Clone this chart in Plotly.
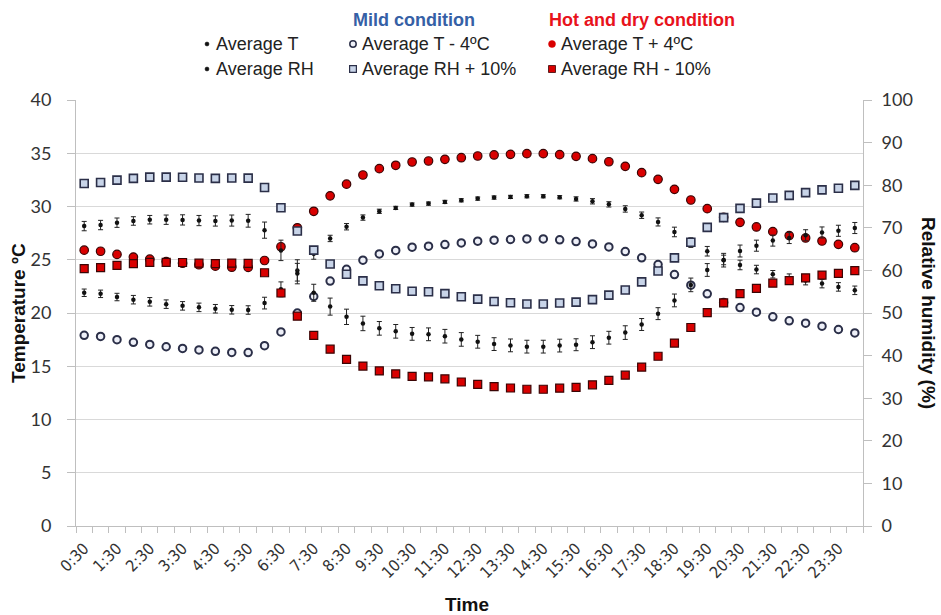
import plotly.graph_objects as go

# ---------------- data ----------------
times = ["0:30", "1:00", "1:30", "2:00", "2:30", "3:00", "3:30", "4:00", "4:30", "5:00",
         "5:30", "6:00", "6:30", "7:00", "7:30", "8:00", "8:30", "9:00", "9:30", "10:00",
         "10:30", "11:00", "11:30", "12:00", "12:30", "13:00", "13:30", "14:00", "14:30", "15:00",
         "15:30", "16:00", "16:30", "17:00", "17:30", "18:00", "18:30", "19:00", "19:30", "20:00",
         "20:30", "21:00", "21:30", "22:00", "22:30", "23:00", "23:30", "24:00"]

avg_T = [21.90, 21.80, 21.50, 21.25, 21.05, 20.83, 20.67, 20.53, 20.40, 20.30, 20.28, 20.93,
         22.22, 24.00, 25.55, 27.00, 28.10, 28.96, 29.55, 29.87, 30.18, 30.27, 30.43, 30.58,
         30.74, 30.84, 30.90, 30.96, 30.96, 30.87, 30.71, 30.49, 30.20, 29.77, 29.18, 28.55,
         27.61, 26.61, 25.80, 24.98, 24.51, 24.08, 23.64, 23.27, 23.04, 22.76, 22.45, 22.13]
avg_T_err = [0.35, 0.35, 0.35, 0.40, 0.40, 0.40, 0.40, 0.40, 0.40, 0.40, 0.40, 0.55,
             0.70, 1.00, 0.50, 0.30, 0.30, 0.25, 0.20, 0.15, 0.15, 0.15, 0.15, 0.15,
             0.15, 0.15, 0.15, 0.15, 0.15, 0.15, 0.20, 0.25, 0.25, 0.30, 0.30, 0.38,
             0.45, 0.45, 0.45, 0.45, 0.45, 0.40, 0.35, 0.40, 0.40, 0.40, 0.40, 0.40]
T_minus4 = [17.90, 17.80, 17.50, 17.25, 17.05, 16.83, 16.67, 16.53, 16.40, 16.30, 16.28, 16.93,
            18.22, 20.00, 21.55, 23.00, 24.10, 24.96, 25.55, 25.87, 26.18, 26.27, 26.43, 26.58,
            26.74, 26.84, 26.90, 26.96, 26.96, 26.87, 26.71, 26.49, 26.20, 25.77, 25.18, 24.55,
            23.61, 22.61, 21.80, 20.98, 20.51, 20.08, 19.64, 19.27, 19.04, 18.76, 18.45, 18.13]
T_plus4 = [25.90, 25.80, 25.50, 25.25, 25.05, 24.83, 24.67, 24.53, 24.40, 24.30, 24.28, 24.93,
           26.22, 28.00, 29.55, 31.00, 32.10, 32.96, 33.55, 33.87, 34.18, 34.27, 34.43, 34.58,
           34.74, 34.84, 34.90, 34.96, 34.96, 34.87, 34.71, 34.49, 34.20, 33.77, 33.18, 32.55,
           31.61, 30.61, 29.80, 28.98, 28.51, 28.08, 27.64, 27.27, 27.04, 26.76, 26.45, 26.13]

avg_RH = [70.40, 70.65, 71.20, 71.60, 71.90, 71.90, 71.85, 71.70, 71.60, 71.70, 71.65, 69.45,
          64.70, 59.25, 54.75, 51.50, 49.10, 47.55, 46.40, 45.70, 45.10, 45.00, 44.55, 43.80,
          43.25, 42.70, 42.40, 42.10, 42.10, 42.35, 42.55, 43.15, 44.20, 45.40, 47.30, 49.85,
          52.95, 56.60, 60.10, 62.40, 64.55, 65.80, 67.00, 67.60, 68.25, 68.90, 69.30, 69.95]
avg_RH_err = [1.1, 1.1, 1.1, 1.0, 1.0, 1.1, 1.2, 1.2, 1.2, 1.3, 1.5, 1.9,
              2.4, 2.4, 2.0, 2.0, 1.8, 1.7, 1.6, 1.6, 1.5, 1.5, 1.6, 1.6,
              1.5, 1.5, 1.5, 1.5, 1.5, 1.5, 1.4, 1.5, 1.5, 1.6, 1.4, 1.4,
              1.5, 1.6, 1.5, 1.6, 1.4, 1.3, 1.3, 1.3, 1.3, 1.3, 1.3, 1.3]
RH_plus10 = [80.40, 80.65, 81.20, 81.60, 81.90, 81.90, 81.85, 81.70, 81.60, 81.70, 81.65, 79.45,
             74.70, 69.25, 64.75, 61.50, 59.10, 57.55, 56.40, 55.70, 55.10, 55.00, 54.55, 53.80,
             53.25, 52.70, 52.40, 52.10, 52.10, 52.35, 52.55, 53.15, 54.20, 55.40, 57.30, 59.85,
             62.95, 66.60, 70.10, 72.40, 74.55, 75.80, 77.00, 77.60, 78.25, 78.90, 79.30, 79.95]
RH_minus10 = [60.40, 60.65, 61.20, 61.60, 61.90, 61.90, 61.85, 61.70, 61.60, 61.70, 61.65, 59.45,
              54.70, 49.25, 44.75, 41.50, 39.10, 37.55, 36.40, 35.70, 35.10, 35.00, 34.55, 33.80,
              33.25, 32.70, 32.40, 32.10, 32.10, 32.35, 32.55, 33.15, 34.20, 35.40, 37.30, 39.85,
              42.95, 46.60, 50.10, 52.40, 54.55, 55.80, 57.00, 57.60, 58.25, 58.90, 59.30, 59.95]

temp_ticks = [0, 5, 10, 15, 20, 25, 30, 35, 40]
rh_ticks = [0, 10, 20, 30, 40, 50, 60, 70, 80, 90, 100]

# ---------------- styling ----------------
W, H = 941, 615
ML, MR, MT, MB = 76, 78, 100, 89
PW, PH = W - ML - MR, H - MT - MB

def px(x):
    return (x - ML) / PW

def py(y):
    return (H - MB - y) / PH

idx = list(range(len(times)))

BLACK = "#111111"
MILD_FILL = "#EEF0F8"
MILD_LINE = "#2B2F48"
MILD_SQ_FILL = "#C8D4E8"
HOT_FILL = "#D90000"
HOT_LINE = "#3A0505"
GRID = "#D9D9D9"
AXIS = "#BFBFBF"

fig = go.Figure()

err_style = dict(type="data", color="#222222", thickness=1, width=2.5, visible=True)

fig.add_trace(go.Scatter(x=idx, y=avg_T, mode="markers", name="Average T",
                         marker=dict(symbol="circle", size=4.5, color=BLACK),
                         error_y=dict(array=avg_T_err, **err_style)))
fig.add_trace(go.Scatter(x=idx, y=T_minus4, mode="markers", name="Average T - 4ºC",
                         marker=dict(symbol="circle", size=7.5, color=MILD_FILL,
                                     line=dict(color=MILD_LINE, width=2))))
fig.add_trace(go.Scatter(x=idx, y=T_plus4, mode="markers", name="Average T + 4ºC",
                         marker=dict(symbol="circle", size=8.5, color=HOT_FILL,
                                     line=dict(color=HOT_LINE, width=1.2))))
fig.add_trace(go.Scatter(x=idx, y=avg_RH, mode="markers", name="Average RH", yaxis="y2",
                         marker=dict(symbol="circle", size=4.5, color=BLACK),
                         error_y=dict(array=avg_RH_err, **err_style)))
fig.add_trace(go.Scatter(x=idx, y=RH_plus10, mode="markers", name="Average RH + 10%", yaxis="y2",
                         marker=dict(symbol="square", size=8, color=MILD_SQ_FILL,
                                     line=dict(color=MILD_LINE, width=1.6))))
fig.add_trace(go.Scatter(x=idx, y=RH_minus10, mode="markers", name="Average RH - 10%", yaxis="y2",
                         marker=dict(symbol="square", size=8, color=HOT_FILL,
                                     line=dict(color=HOT_LINE, width=1.2))))

tick_font = dict(family="Lato, Open Sans, sans-serif", size=18, color="#333333")

fig.update_layout(
    width=W, height=H,
    margin=dict(l=ML, r=MR, t=MT, b=MB),
    paper_bgcolor="white", plot_bgcolor="white",
    showlegend=False,
    xaxis=dict(
        range=[-0.5, len(times) - 0.5],
        tickmode="array", tickvals=idx[0::2], ticktext=times[0::2],
        tickangle=-45, ticks="", ticklabelstandoff=6,
        tickfont=dict(family="Liberation Sans Narrow, DejaVu Sans Condensed, Arial Narrow, sans-serif",
                      size=16, color="#333333"),
        showgrid=False, zeroline=False,
        showline=True, linecolor=AXIS, linewidth=1,
        minor=dict(tickmode="linear", tick0=-0.5, dtick=1, ticks="outside",
                   ticklen=6, tickcolor=AXIS, showgrid=False),
    ),
    yaxis=dict(
        range=[0, 40], tickmode="array", tickvals=temp_ticks,
        ticks="outside", ticklen=8, tickcolor=AXIS, ticklabelstandoff=12,
        tickfont=tick_font, showgrid=True, gridcolor=GRID, gridwidth=1,
        zeroline=False, showline=True, linecolor=AXIS, linewidth=1,
    ),
    yaxis2=dict(
        range=[0, 100], tickmode="array", tickvals=rh_ticks,
        overlaying="y", side="right",
        ticks="outside", ticklen=8, tickcolor=AXIS, ticklabelstandoff=6,
        tickfont=tick_font, showgrid=False, zeroline=False,
        showline=True, linecolor=AXIS, linewidth=1,
    ),
)

title_font = dict(family="Liberation Sans, Arial, sans-serif", size=19, color="#111111")
head_font = dict(family="Liberation Sans, Arial, sans-serif", size=18)
annotations = [
    dict(text="<b>Temperature ºC</b>", x=px(18), y=0.5, textangle=-90,
         font=title_font),
    dict(text="<b>Relative humidity (%)</b>", x=px(929), y=0.5, textangle=90,
         font=title_font),
    dict(text="<b>Time</b>", x=px(467), y=py(604), font=title_font),
    dict(text="<b>Mild condition</b>", x=px(414), y=py(20),
         font=dict(head_font, color="#3560A6")),
    dict(text="<b>Hot and dry condition</b>", x=px(642), y=py(20),
         font=dict(head_font, color="#E8121C")),
]
leg_font = dict(family="Liberation Sans, Arial, sans-serif", size=18, color="#222222")
legend_items = [
    ("Average T", 207, 44), ("Average RH", 207, 69),
    ("Average T - 4ºC", 353, 44), ("Average RH + 10%", 353, 69),
    ("Average T + 4ºC", 552, 44), ("Average RH - 10%", 552, 69),
]
for label, mx, my in legend_items:
    annotations.append(dict(text=label, x=px(mx + 7), y=py(my), xanchor="left",
                            font=leg_font))
for a in annotations:
    a.setdefault("xref", "paper")
    a.setdefault("yref", "paper")
    a.setdefault("showarrow", False)
    a.setdefault("xanchor", "center")
    a.setdefault("yanchor", "middle")
fig.update_layout(annotations=annotations)

def marker_shape(kind, mx, my, r, fill, line, lw):
    return dict(type=kind, xref="paper", yref="paper",
                xsizemode="pixel", ysizemode="pixel",
                xanchor=px(mx), yanchor=py(my),
                x0=-r, x1=r, y0=-r, y1=r,
                fillcolor=fill, line=dict(color=line, width=lw), layer="above")

shapes = [
    marker_shape("circle", 207, 44, 2, BLACK, BLACK, 0.5),
    marker_shape("circle", 207, 69, 2, BLACK, BLACK, 0.5),
    marker_shape("circle", 353, 44, 3.2, MILD_FILL, MILD_LINE, 1.5),
    marker_shape("rect", 353, 69, 3.4, MILD_SQ_FILL, MILD_LINE, 1.2),
    marker_shape("circle", 552, 44, 3.5, HOT_FILL, HOT_FILL, 0.5),
    marker_shape("rect", 552, 69, 3.5, HOT_FILL, HOT_LINE, 0.8),
]
fig.update_layout(shapes=shapes)

fig.write_html("out.html")
